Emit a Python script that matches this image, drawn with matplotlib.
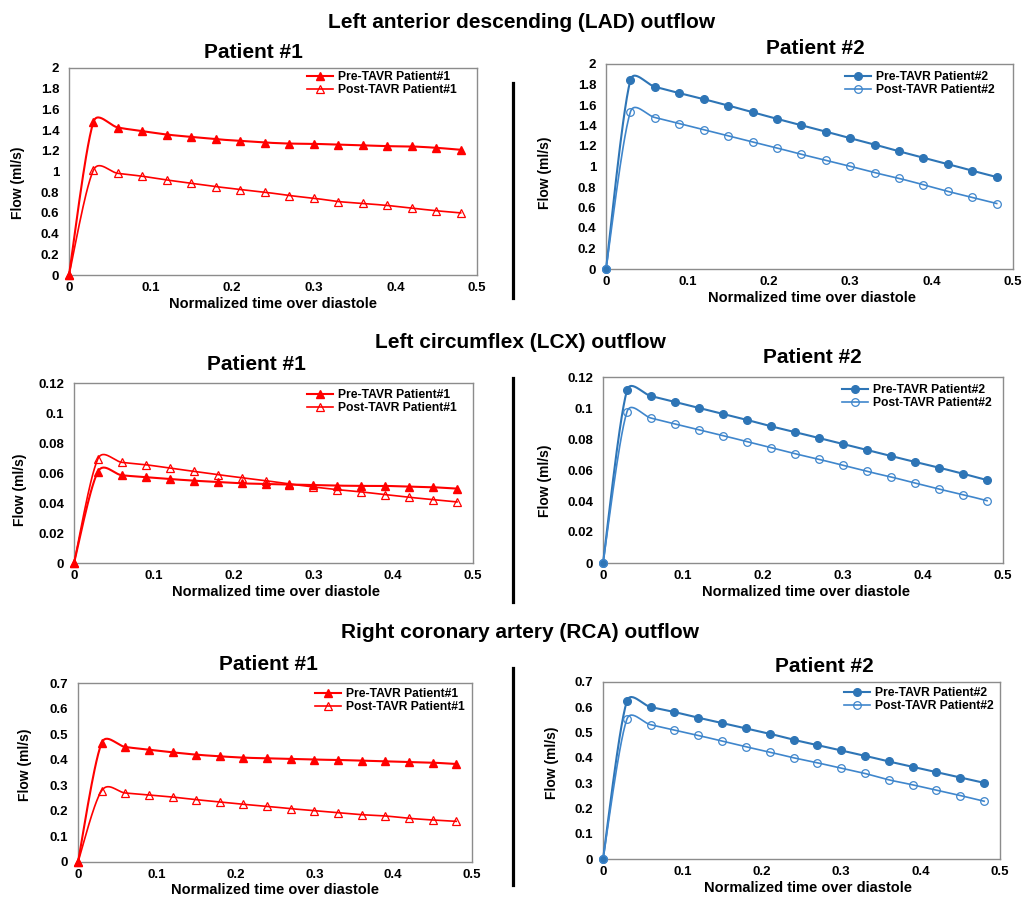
import numpy as np
import matplotlib
matplotlib.use("Agg")
import matplotlib.pyplot as plt
from matplotlib.lines import Line2D
from matplotlib.ticker import FuncFormatter, MultipleLocator

plt.rcParams['font.family'] = ['Liberation Sans', 'DejaVu Sans']
plt.rcParams['font.weight'] = 'bold'

# ---------------- data ----------------
x_time = [0, 0.03, 0.06, 0.09, 0.12, 0.15, 0.18, 0.21, 0.24, 0.27, 0.30, 0.33, 0.36, 0.39, 0.42, 0.45, 0.48]

lad_pre_p1 = [0, 1.48, 1.425, 1.39, 1.357, 1.334, 1.312, 1.296, 1.28, 1.27, 1.267, 1.26, 1.254, 1.245, 1.242, 1.229, 1.21]
lad_post_p1 = [0, 1.014, 0.982, 0.954, 0.918, 0.886, 0.854, 0.826, 0.80, 0.768, 0.742, 0.71, 0.691, 0.672, 0.646, 0.621, 0.60]
lad_pre_p2 = [0, 1.843, 1.778, 1.716, 1.657, 1.595, 1.530, 1.465, 1.403, 1.341, 1.276, 1.214, 1.148, 1.086, 1.024, 0.959, 0.897]
lad_post_p2 = [0, 1.533, 1.478, 1.419, 1.36, 1.299, 1.240, 1.181, 1.119, 1.06, 1.002, 0.94, 0.884, 0.822, 0.757, 0.698, 0.639]

lcx_pre_p1 = [0, 0.0609, 0.0585, 0.0573, 0.056, 0.0549, 0.054, 0.0531, 0.0527, 0.0523, 0.052, 0.0516, 0.0514, 0.0514, 0.0509, 0.0505, 0.0496]
lcx_post_p1 = [0, 0.0695, 0.0671, 0.0655, 0.0633, 0.0611, 0.0589, 0.0569, 0.0549, 0.0527, 0.0507, 0.0489, 0.0474, 0.0456, 0.0438, 0.0423, 0.0407]
lcx_pre_p2 = [0, 0.1114, 0.1077, 0.1039, 0.1, 0.0961, 0.0923, 0.0882, 0.0845, 0.0806, 0.0768, 0.0729, 0.069, 0.0652, 0.0615, 0.0576, 0.0535]
lcx_post_p2 = [0, 0.0976, 0.0935, 0.0897, 0.086, 0.0822, 0.0783, 0.0744, 0.0705, 0.0669, 0.063, 0.0591, 0.0555, 0.0516, 0.0477, 0.0441, 0.0402]

rca_pre_p1 = [0, 0.4654, 0.4498, 0.4394, 0.4289, 0.4198, 0.4133, 0.4081, 0.4055, 0.4029, 0.4003, 0.399, 0.3963, 0.3937, 0.3911, 0.3885, 0.3833]
rca_post_p1 = [0, 0.279, 0.2699, 0.262, 0.254, 0.2438, 0.2347, 0.2256, 0.2177, 0.2086, 0.2008, 0.193, 0.185, 0.18, 0.1708, 0.1643, 0.159]
rca_pre_p2 = [0, 0.6235, 0.601, 0.5812, 0.5588, 0.5376, 0.5165, 0.4954, 0.4716, 0.4505, 0.4293, 0.4082, 0.3857, 0.3646, 0.3435, 0.3223, 0.3012]
rca_post_p2 = [0, 0.5522, 0.531, 0.5099, 0.4888, 0.4663, 0.4439, 0.4227, 0.4003, 0.3804, 0.3593, 0.3382, 0.3131, 0.2933, 0.2721, 0.251, 0.2285]

section_titles = ["Left anterior descending (LAD) outflow",
                  "Left circumflex (LCX) outflow",
                  "Right coronary artery (RCA) outflow"]
patient_titles = ["Patient #1", "Patient #2"]
legend_labels_p1 = ["Pre-TAVR Patient#1", "Post-TAVR Patient#1"]
legend_labels_p2 = ["Pre-TAVR Patient#2", "Post-TAVR Patient#2"]
x_label = "Normalized time over diastole"
y_label = "Flow (ml/s)"
y_max = [2.0, 0.12, 0.7]
y_step = [0.2, 0.02, 0.1]

# ---------------- layout ----------------
W, H = 1031, 899
fig = plt.figure(figsize=(W / 100, H / 100), dpi=100)

RED = "#FF0000"
BLUE = "#2E75B6"
BLUE_L = "#3F86CC"


def fx(px):
    return px / W


def fy(py):
    return 1 - py / H


def excel_smooth(ax, xs, ys, n=30):
    pts = ax.transData.transform(np.column_stack([xs, ys]))
    N = len(pts)
    out = [pts[0]]
    t = np.linspace(0, 1, n)[1:][:, None]
    for i in range(N - 1):
        p0 = pts[i - 1] if i > 0 else pts[i]
        p1 = pts[i]
        p2 = pts[i + 1]
        p3 = pts[i + 2] if i + 2 < N else pts[i + 1]
        d02 = np.linalg.norm(p2 - p0)
        d12 = np.linalg.norm(p2 - p1)
        d13 = np.linalg.norm(p3 - p1)
        f = 1 / 6
        g = 1 / 6
        if d02 > 0 and d02 / 6 >= d12 / 2:
            f = d12 / d02 / 2
        if d13 > 0 and d13 / 6 >= d12 / 2:
            g = d12 / d13 / 2
        b1 = p1 + (p2 - p0) * f
        b2 = p2 - (p3 - p1) * g
        seg = ((1 - t) ** 3) * p1 + 3 * ((1 - t) ** 2) * t * b1 + 3 * (1 - t) * t ** 2 * b2 + t ** 3 * p2
        out.extend(seg)
    out = np.array(out)
    d = ax.transData.inverted().transform(out)
    return d[:, 0], d[:, 1]


fmt = FuncFormatter(lambda v, p: f"{round(v, 4):g}")

panels = [
    # (row, col, box l r t b, pre, post)
    (0, 0, (69, 477, 68, 275), lad_pre_p1, lad_post_p1),
    (0, 1, (606, 1013, 64, 269), lad_pre_p2, lad_post_p2),
    (1, 0, (74, 473, 383, 563), lcx_pre_p1, lcx_post_p1),
    (1, 1, (603, 1003, 377, 563), lcx_pre_p2, lcx_post_p2),
    (2, 0, (78, 472, 683, 862), rca_pre_p1, rca_post_p1),
    (2, 1, (603, 1000, 682, 859), rca_pre_p2, rca_post_p2),
]
subtitle_pos = [(253, 52), (815, 48), (256, 365), (812, 358), (268, 665), (824, 667)]
legend_pos = [(457, 71), (995, 71), (457, 389), (992, 384), (465, 688), (994, 687)]
xlabel_pos = [(273, 304), (812, 298), (276, 592), (806, 592), (275, 890), (808, 888)]
ylabel_pos = [(18, 183), (545, 173), (20, 490), (545, 481), (25, 765), (552, 763)]

for k, (row, col, box, pre, post) in enumerate(panels):
    l, r, t, b = box
    ax = fig.add_axes([fx(l), fy(b), (r - l) / W, (b - t) / H])
    ax.set_xlim(0, 0.5)
    ax.set_ylim(0, y_max[row])
    ax.xaxis.set_major_locator(MultipleLocator(0.1))
    ax.yaxis.set_major_locator(MultipleLocator(y_step[row]))
    ax.xaxis.set_major_formatter(fmt)
    ax.yaxis.set_major_formatter(fmt)
    ax.tick_params(length=0, labelsize=9.5, pad=5)
    ax.tick_params(axis='y', pad=7)
    for lab in ax.get_xticklabels() + ax.get_yticklabels():
        lab.set_fontweight('bold')
    for s in ax.spines.values():
        s.set_color("#8C8C8C")
        s.set_linewidth(1.0)

    if col == 0:
        c_pre, c_post, mk, labels = RED, RED, '^', legend_labels_p1
        ms = 5.8
    else:
        c_pre, c_post, mk, labels = BLUE, BLUE_L, 'o', legend_labels_p2
        ms = 5.5

    sx, sy = excel_smooth(ax, x_time, pre)
    ax.plot(sx, sy, color=c_pre, lw=1.5, clip_on=False, zorder=3)
    ax.plot(x_time, pre, ls='none', marker=mk, ms=ms, color=c_pre, mfc=c_pre, mec=c_pre, clip_on=False, zorder=4)
    sx, sy = excel_smooth(ax, x_time, post)
    ax.plot(sx, sy, color=c_post, lw=1.2, clip_on=False, zorder=3)
    ax.plot(x_time, post, ls='none', marker=mk, ms=ms, color=c_post, mfc='none', mec=c_post, mew=0.9, clip_on=False, zorder=4)

    handles = [Line2D([], [], color=c_pre, lw=1.5, marker=mk, ms=ms, mfc=c_pre, mec=c_pre),
               Line2D([], [], color=c_post, lw=1.2, marker=mk, ms=ms, mfc='none', mec=c_post, mew=0.9)]
    lx, ly = legend_pos[k]
    leg = fig.legend(handles, labels, loc='upper right', bbox_to_anchor=(fx(lx), fy(ly)),
                     bbox_transform=fig.transFigure, frameon=False, borderpad=0, borderaxespad=0,
                     handlelength=2.1, handletextpad=0.45, labelspacing=0.1,
                     prop={'size': 8.7, 'weight': 'bold'})

    ax.set_xlabel(x_label, fontsize=10.5, fontweight='bold', va='center')
    ax.xaxis.set_label_coords(fx(xlabel_pos[k][0]), fy(xlabel_pos[k][1]), transform=fig.transFigure)
    ax.set_ylabel(y_label, fontsize=10, fontweight='bold', va='center')
    ax.yaxis.set_label_coords(fx(ylabel_pos[k][0]), fy(ylabel_pos[k][1]), transform=fig.transFigure)

    sxp, syp = subtitle_pos[k]
    fig.text(fx(sxp), fy(syp), patient_titles[col], ha='center', va='center', fontsize=15, fontweight='bold')

# section titles
for title, (tx, ty) in zip(section_titles, [(522, 22), (520, 342), (520, 633)]):
    fig.text(fx(tx), fy(ty), title, ha='center', va='center', fontsize=15, fontweight='bold')

# separator lines
for (y0, y1) in [(83, 298), (378, 602), (668, 885)]:
    fig.add_artist(Line2D([fx(513), fx(513)], [fy(y0), fy(y1)], color='black', lw=2.3,
                          transform=fig.transFigure))

fig.savefig("out.png", dpi=100, facecolor='white')
